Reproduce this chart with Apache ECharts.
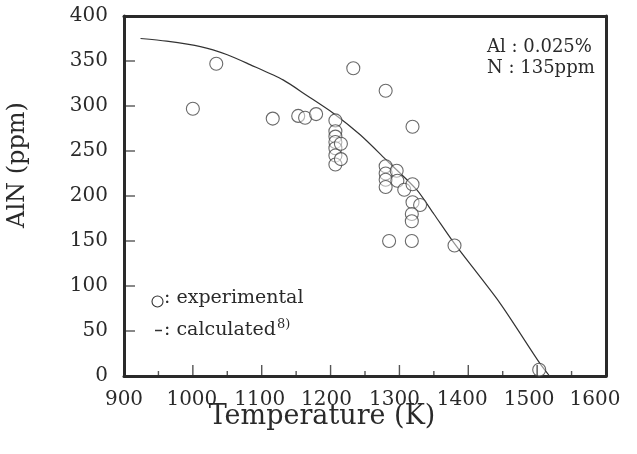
<!DOCTYPE html>
<html>
<head>
<meta charset="utf-8">
<script src="https://cdn.jsdelivr.net/npm/echarts@6/dist/echarts.min.js"></script>
<style>
html,body{margin:0;padding:0;background:#fff;}
#chart{width:637px;height:454px;}
</style>
</head>
<body>
<div id="chart"></div>
<script>
// Experimental points: temperature (K) and AlN (ppm)
const expTemp = [1000, 1034, 1116, 1153, 1163, 1179, 1233, 1280, 1319,
  1207, 1207, 1207, 1207, 1207, 1207, 1207, 1215, 1215,
  1280, 1280, 1280, 1280, 1296, 1297, 1307, 1319, 1319, 1330, 1318, 1318, 1285, 1318, 1380, 1503];
const expAlN = [297, 347, 286, 289, 287, 291, 342, 317, 277,
  284, 272, 266, 260, 253, 245, 235, 258, 241,
  233, 225, 218, 210, 228, 217, 207, 213, 193, 190, 180, 172, 150, 150, 145, 7];

// Calculated curve
const calcTemp = [924, 962, 1011, 1050, 1083, 1131, 1165, 1204, 1243, 1281, 1325, 1350, 1380, 1446, 1504, 1518];
const calcAlN  = [375, 372, 366, 357, 346, 329, 312, 292, 268, 240, 207, 180, 147, 81, 14, 0];

// Axis tick labels
const xTickLabels = ['900', '1000', '1100', '1200', '1300', '1400', '1500', '1600'];
const yTickLabels = ['0', '50', '100', '150', '200', '250', '300', '350', '400'];

// Texts
const annoLines = ['Al : 0.025%', 'N : 135ppm'];
const legendExp = ': experimental';
const legendCalc = ': calculated';
const legendCalcSup = '8)';
const xTitle = 'Temperature (K)';
const yTitle = 'AlN (ppm)';

// Styling (label drift of the original print)
const xLabelShift = [0, 1, 2, 4, 5, 6, 8, 11];

const FONT = 'DejaVu Serif';
const INK = '#2a2a2a';
const X_MIN = 900, X_MAX = 1600, Y_MIN = 0, Y_MAX = 400;

const rich = {};
xLabelShift.forEach((s, i) => {
  rich['s' + i] = { fontFamily: FONT, fontSize: 20, color: INK, padding: [0, 2 * s, 0, 0] };
});

function frameLine() { return { show: true, onZero: false, lineStyle: { color: INK, width: 3 } }; }

// Tick positions (data values) derived from the tick labels
const xMajor = xTickLabels.map(Number);
const yMajor = yTickLabels.map(Number);
const xMinor = xMajor.slice(0, -1).map((v, i) => (v + xMajor[i + 1]) / 2);

function tickSeries(data, size, offset) {
  return {
    type: 'scatter', silent: true, clip: false,
    symbol: 'rect', symbolSize: size, symbolOffset: offset,
    itemStyle: { color: INK, borderWidth: 0 },
    emphasis: { disabled: true },
    data: data, z: 4
  };
}

const chart = echarts.init(document.getElementById('chart'));
chart.setOption({
  animation: false,
  grid: { left: 124, right: 31, top: 16, bottom: 78, show: false },
  xAxis: [{
    type: 'value', min: X_MIN, max: X_MAX, interval: 100, position: 'bottom',
    axisLine: frameLine(),
    axisTick: { show: false },
    splitLine: { show: false },
    axisLabel: {
      margin: 14,
      formatter: (v) => {
        const i = xTickLabels.indexOf(String(v));
        return i >= 0 ? '{s' + i + '|' + xTickLabels[i] + '}' : '';
      },
      rich: rich,
      fontFamily: FONT, fontSize: 20, color: INK
    }
  }, {
    type: 'value', min: X_MIN, max: X_MAX, interval: 100, position: 'top',
    axisLine: frameLine(), axisTick: { show: false }, axisLabel: { show: false }, splitLine: { show: false }
  }],
  yAxis: [{
    type: 'value', min: Y_MIN, max: Y_MAX, interval: 50, position: 'left',
    axisLine: frameLine(),
    axisTick: { show: false },
    splitLine: { show: false },
    axisLabel: {
      margin: 16,
      formatter: (v) => yTickLabels.includes(String(v)) ? String(v) : '',
      fontFamily: FONT, fontSize: 20, color: INK
    }
  }, {
    type: 'value', min: Y_MIN, max: Y_MAX, interval: 50, position: 'right',
    axisLine: frameLine(), axisTick: { show: false }, axisLabel: { show: false }, splitLine: { show: false }
  }],
  series: [
    {
      type: 'line',
      data: calcTemp.map((t, i) => [t, calcAlN[i]]),
      smooth: 0.25,
      showSymbol: false,
      lineStyle: { color: '#333', width: 1.2 },
      z: 2
    },
    {
      type: 'scatter',
      data: expTemp.map((t, i) => [t, expAlN[i]]),
      symbol: 'circle',
      symbolSize: 13,
      itemStyle: { color: 'rgba(255,255,255,0.6)', borderColor: '#444', borderWidth: 1.1 },
      z: 3
    },
    tickSeries(xMajor.map(v => [v, Y_MIN]), [1.4, 11], [0, -5.5]),
    tickSeries(xMinor.map(v => [v, Y_MIN]), [1.4, 5], [0, -2.5]),
    tickSeries(yMajor.map(v => [X_MIN, v]), [11, 1.4], [5.5, 0])
  ],
  graphic: [
    { type: 'text', left: 487, top: 38, style: { text: annoLines[0], font: '18px "' + FONT + '"', fill: INK } },
    { type: 'text', left: 487, top: 59, style: { text: annoLines[1], font: '18px "' + FONT + '"', fill: INK } },
    { type: 'circle', shape: { cx: 157.5, cy: 301.5, r: 5.5 }, style: { fill: 'none', stroke: '#333', lineWidth: 1.1 } },
    { type: 'text', left: 164, top: 289, style: { text: legendExp, font: '19px "' + FONT + '"', fill: INK } },
    { type: 'line', shape: { x1: 155, y1: 330.5, x2: 162, y2: 330.5 }, style: { stroke: '#333', lineWidth: 1.5 } },
    { type: 'text', left: 164, top: 321, style: { text: legendCalc, font: '19px "' + FONT + '"', fill: INK } },
    { type: 'text', left: 277, top: 318, style: { text: legendCalcSup, font: '13px "' + FONT + '"', fill: INK } },
    { type: 'text', x: 322, y: 417, style: { text: xTitle, font: '27px "' + FONT + '"', fill: INK, textAlign: 'center', textVerticalAlign: 'middle' } },
    { type: 'text', x: 18, y: 165, rotation: Math.PI / 2, style: { text: yTitle, font: '24px "' + FONT + '"', fill: INK, textAlign: 'center', textVerticalAlign: 'middle' } }
  ]
});
</script>
</body>
</html>
